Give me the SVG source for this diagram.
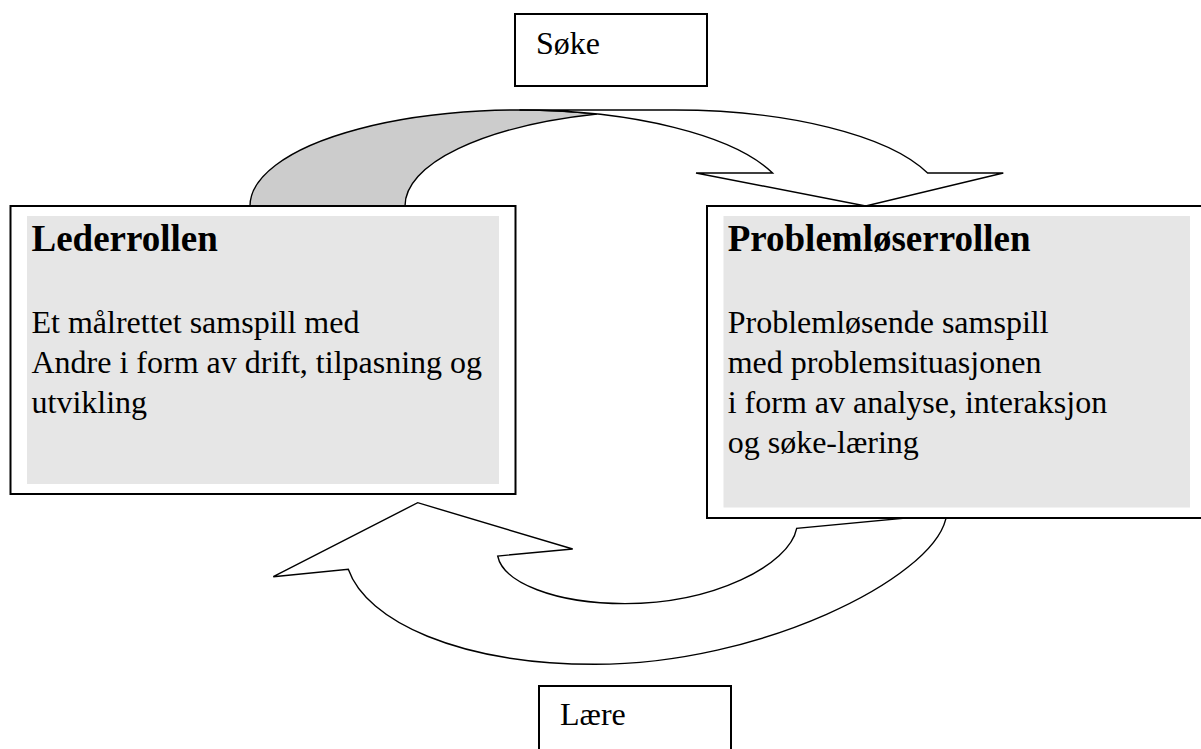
<svg xmlns="http://www.w3.org/2000/svg" width="1201" height="749" viewBox="0 0 1201 749">
  <style>
    .frame { fill: #ffffff; stroke: #000000; stroke-width: 2; }
    .panel { fill: #e6e6e6; stroke: none; }
    .band { fill: #ffffff; stroke: #000000; stroke-width: 1.4; stroke-linejoin: miter; }
    .back { fill: #cccccc; stroke: #000000; stroke-width: 1.4; }
    .txt { font-family: "Liberation Serif", "Times New Roman", serif; font-size: 32px; fill: #000000; }
    .title { font-family: "Liberation Serif", "Times New Roman", serif; font-size: 37px; font-weight: bold; fill: #000000; }
  </style>

  <!-- curved arrows between the two roles -->
  <g id="connectors">
    <!-- upper arrow: shaded underside of the band -->
    <path class="back" d="M 250,206 A 269.5 96 0 0 1 597,114.05 A 269.5 96 0 0 0 405,206 Z"/>
    <!-- upper arrow: front of the band with head pointing down -->
    <path class="band" d="M 519.5,110 L 674.5,110 A 269.5 96 0 0 1 927.6,173 L 1003.3,173 L 865.7,206 L 696,173 L 772.6,173 A 269.5 96 0 0 0 519.5,110 Z"/>
    <!-- lower arrow: band curving under, head pointing up-left -->
    <path class="band" d="M 945.7,519.3 C 930.6,579.4 760,664.3 595,664.3 C 459,664.3 366.5,621.2 348.3,569.3 L 273.3,576.7 L 417.7,502.7 L 572.7,549 L 497.7,556 C 503.1,582.5 555,603.6 625,603.6 C 713,603.6 789.1,565.5 796.7,528.3 L 948,514 Z"/>
  </g>

  <g id="soke">
    <rect class="frame" x="515" y="14" width="192" height="72"/>
    <text class="txt" x="536" y="54">Søke</text>
  </g>

  <g id="lederrollen">
    <rect class="frame" x="10.5" y="206" width="505" height="288"/>
    <rect class="panel" x="27" y="216" width="472" height="268"/>
    <text class="title" x="31.5" y="251">Lederrollen</text>
    <text class="txt" x="31.5" y="332.7">Et målrettet samspill med</text>
    <text class="txt" x="31.5" y="372.9">Andre i form av drift, tilpasning og</text>
    <text class="txt" x="31.5" y="413.1">utvikling</text>
  </g>

  <g id="problemloserrollen">
    <rect class="frame" x="707" y="206" width="500" height="312"/>
    <rect class="panel" x="723.5" y="216" width="466.5" height="291.5"/>
    <text class="title" x="727.7" y="251">Problemløserrollen</text>
    <text class="txt" x="727.7" y="332.7">Problemløsende samspill</text>
    <text class="txt" x="727.7" y="372.9">med problemsituasjonen</text>
    <text class="txt" x="727.7" y="413.1">i form av analyse, interaksjon</text>
    <text class="txt" x="727.7" y="453.3">og søke-læring</text>
  </g>

  <g id="laere">
    <rect class="frame" x="539" y="686" width="192" height="72"/>
    <text class="txt" x="560" y="725">Lære</text>
  </g>
</svg>
